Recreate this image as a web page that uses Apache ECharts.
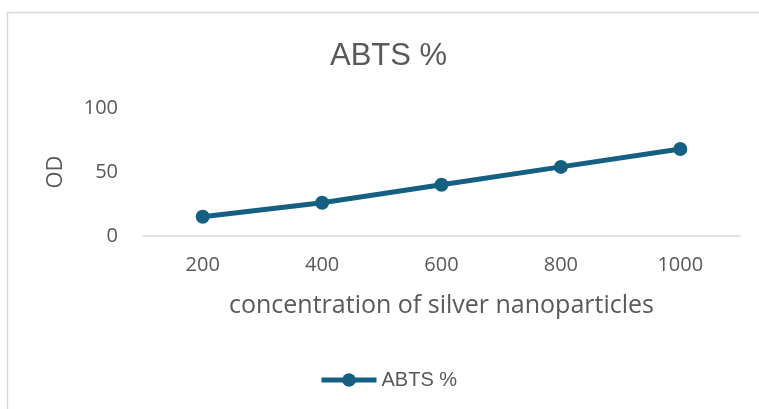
<!DOCTYPE html>
<html><head><meta charset="utf-8">
<script src="https://cdn.jsdelivr.net/npm/echarts@6/dist/echarts.min.js"></script>
<style>html,body{margin:0;padding:0;background:#fff}#c{width:759px;height:409px}</style>
</head><body><div id="c"></div>
<script>
const categories = ['200', '400', '600', '800', '1000'];
const abtsValues = [15, 26, 40, 54, 68];
const yTicks = [0, 50, 100];

const chart = echarts.init(document.getElementById('c'));
const txt = '#595959';
const ff = '"Open Sans", Roboto, sans-serif';
const fa = '"Liberation Sans", Arial, sans-serif';
chart.setOption({
  animation: false,
  textStyle: { fontFamily: ff },
  graphic: [{
    type: 'rect', left: 5, top: 10, silent: true,
    shape: { width: 800, height: 500 },
    style: { fill: 'none', stroke: '#d9d9d9', lineWidth: 1.5 }
  }],
  title: {
    text: 'ABTS %', left: 325, top: 36,
    textStyle: { color: txt, fontSize: 31, fontWeight: 'normal', fontFamily: fa }
  },
  legend: {
    left: 314, top: 365, itemWidth: 55, itemHeight: 17, itemGap: 4,
    data: ['ABTS %'],
    lineStyle: { width: 5 },
    textStyle: { color: txt, fontSize: 20, fontFamily: fa }
  },
  grid: { left: 143, right: 19, top: 108, bottom: 173 },
  xAxis: {
    type: 'category', data: categories, boundaryGap: true,
    name: 'concentration of silver nanoparticles', nameLocation: 'middle', nameGap: 57,
    nameTextStyle: { color: txt, fontSize: 25, fontFamily: ff },
    axisLine: { lineStyle: { color: '#d9d9d9', width: 1.5 } },
    axisTick: { show: false },
    axisLabel: { color: txt, fontSize: 20, margin: 19, fontFamily: ff }
  },
  yAxis: {
    type: 'value', min: yTicks[0], max: yTicks[yTicks.length - 1], interval: 50,
    name: 'OD', nameLocation: 'middle', nameGap: 76, nameRotate: 90,
    nameTextStyle: { color: txt, fontSize: 22, fontFamily: ff },
    axisLine: { show: false }, axisTick: { show: false },
    splitLine: { show: false },
    axisLabel: { color: txt, fontSize: 20, margin: 25, fontFamily: ff }
  },
  series: [{
    name: 'ABTS %', type: 'line', data: abtsValues,
    symbol: 'circle', symbolSize: 14,
    lineStyle: { color: '#156082', width: 5 },
    itemStyle: { color: '#156082' }
  }]
});
</script></body></html>
